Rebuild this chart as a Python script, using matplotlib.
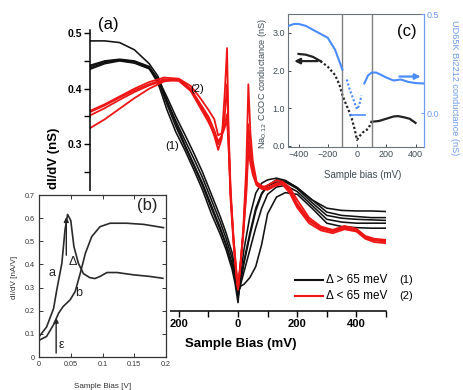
import matplotlib
matplotlib.use('Agg')
import matplotlib.pyplot as plt
from matplotlib.patches import Rectangle, FancyArrowPatch
from matplotlib.lines import Line2D
import numpy as np

plt.rcParams['font.family'] = ['Liberation Sans', 'DejaVu Sans']

# ---------------- main panel (a) data ----------------
bias_black = [-500, -450, -400, -350, -300, -270, -240, -210, -180, -150, -120, -90, -60, -40, -20, -10, 0,
              10, 20, 40, 60, 80, 100, 130, 160, 200, 250, 300, 350, 400, 450, 500]
black_1 = [.486, .486, .483, .470, .445, .422, .378, .338, .300, .265, .230, .190, .150, .120, .085, .060, .025,
           .060, .090, .140, .185, .212, .226, .236, .234, .222, .200, .178, .172, .170, .168, .168]
black_2 = [.437, .447, .451, .447, .436, .410, .362, .322, .290, .255, .218, .175, .138, .110, .075, .050, .015,
           .070, .110, .170, .212, .230, .236, .239, .235, .222, .200, .185, .181, .180, .180, .179]
black_3 = [.440, .449, .452, .449, .438, .414, .372, .332, .297, .262, .226, .185, .146, .118, .082, .058, .025,
           .055, .085, .135, .180, .210, .225, .232, .232, .220, .195, .172, .167, .165, .164, .163]
black_4 = [.435, .445, .450, .446, .436, .418, .385, .350, .318, .285, .250, .210, .170, .140, .105, .075, .035,
           .045, .048, .060, .080, .120, .175, .205, .213, .210, .185, .158, .152, .150, .149, .149]
black_5 = [.442, .450, .453, .450, .440, .416, .378, .342, .308, .275, .240, .200, .160, .130, .095, .068, .030,
           .050, .070, .110, .150, .185, .210, .223, .226, .215, .190, .165, .160, .158, .158, .158]

bias_red = [-500, -450, -400, -350, -300, -250, -200, -160, -130, -100, -80, -67, -55, -45, -37, -32, -25, -15, -5, 0,
            8, 18, 28, 35, 42, 50, 63, 80, 100, 130, 150, 175, 200, 240, 280, 320, 360, 400, 430, 460, 500]
red_1 = [.358, .370, .384, .397, .408, .417, .416, .398, .372, .345, .315, .290, .310, .390, .473, .330, .220, .130, .065, .040,
         .080, .150, .260, .408, .320, .270, .232, .225, .222, .228, .230, .215, .190, .162, .148, .143, .150, .145, .133, .127, .125]
red_2 = [.360, .372, .386, .400, .412, .420, .418, .405, .385, .362, .345, .316, .320, .335, .354, .300, .210, .130, .070, .045,
         .085, .140, .220, .305, .280, .255, .228, .222, .226, .235, .233, .222, .200, .168, .152, .146, .153, .148, .135, .130, .128]
red_3 = [.352, .365, .380, .394, .406, .415, .414, .396, .368, .340, .318, .300, .315, .350, .408, .320, .210, .125, .060, .038,
         .080, .145, .240, .336, .290, .260, .230, .220, .218, .226, .228, .212, .186, .158, .145, .140, .147, .143, .130, .124, .122]
red_4 = [.329, .345, .364, .383, .400, .413, .417, .400, .375, .350, .325, .305, .315, .330, .345, .300, .200, .120, .062, .040,
         .080, .140, .210, .290, .265, .245, .226, .220, .220, .230, .230, .218, .193, .164, .150, .144, .150, .146, .132, .128, .126]

main_xticks = [-200, 0, 200, 400]
main_xticklabels = ['200', '0', '200', '400']
main_yticks = [0.3, 0.4, 0.5]
main_yticklabels = ['0.3', '0.4', '0.5']

# ---------------- inset (b) data ----------------
b_bias_a = [0.0, 0.0016, 0.012, 0.023, 0.028, 0.036, 0.041, 0.045, 0.050, 0.055, 0.062, 0.070, 0.080, 0.088,
            0.096, 0.107, 0.123, 0.149, 0.175, 0.195]
b_curve_a = [0.085, 0.093, 0.13, 0.21, 0.29, 0.405, 0.55, 0.616, 0.59, 0.477, 0.405, 0.36, 0.343, 0.339,
             0.348, 0.365, 0.365, 0.355, 0.348, 0.34]
b_bias_b = [0.0, 0.002, 0.012, 0.023, 0.031, 0.038, 0.049, 0.057, 0.065, 0.073, 0.083, 0.096, 0.112, 0.138,
            0.165, 0.196]
b_curve_b = [0.07, 0.075, 0.089, 0.14, 0.19, 0.218, 0.247, 0.283, 0.362, 0.448, 0.52, 0.563, 0.578, 0.578,
             0.573, 0.559]

# ---------------- inset (c) data ----------------
c_bias_black = [-400, -350, -300, -250, -200, -150, -120, -100, -80, -60, -40, -20, 0, 20, 40, 60, 80, 100,
                150, 200, 250, 280, 320, 360, 400]
c_ccoc = [2.44, 2.42, 2.36, 2.25, 2.10, 1.88, 1.62, 1.35, 1.15, 0.97, 0.78, 0.50, 0.16, 0.27, 0.36, 0.40, 0.48, 0.64,
          0.66, 0.72, 0.78, 0.79, 0.76, 0.72, 0.61]
c_bias_blue = [-470, -430, -400, -350, -300, -250, -200, -150, -100, -70, -50, -30, -15, 0, 15, 30, 50, 75, 100,
               130, 160, 200, 250, 300, 350, 400, 460]
c_bi2212 = [0.44, 0.45, 0.45, 0.44, 0.42, 0.40, 0.38, 0.32, 0.22, 0.17, 0.12, 0.08, 0.05, 0.02, 0.04, 0.09, 0.15,
            0.19, 0.205, 0.205, 0.195, 0.18, 0.165, 0.17, 0.158, 0.152, 0.15]

BLACK = '#111111'
RED = '#ee1515'
BLUE = '#4a8cff'
LBLUE = '#6f9cf0'
SLATE = '#3e4c52'


def arrow(axis, start, end, color, lw, scale):
    axis.add_patch(FancyArrowPatch(start, end, arrowstyle='-|>', color=color, lw=lw,
                                   mutation_scale=scale, shrinkA=0, shrinkB=0))


fig = plt.figure(figsize=(4.64, 3.90), dpi=100)

# ---------------- main axes ----------------
ax = fig.add_axes([90 / 464, (390 - 311) / 390, 296 / 464, 289 / 390])
ax.set_zorder(0)
for yv in [black_1, black_2, black_3, black_4, black_5]:
    ax.plot(bias_black, yv, color=BLACK, lw=1.15)
for yv in [red_1, red_2, red_3, red_4]:
    ax.plot(bias_red, yv, color=RED, lw=1.3)
ax.set_xlim(-500, 500)
ax.set_ylim(0, 0.52)
ax.spines[['top', 'right']].set_visible(False)
ax.spines['left'].set_bounds(0, 0.506)
for s in ['left', 'bottom']:
    ax.spines[s].set_linewidth(1.1)
ax.set_xticks(main_xticks)
ax.set_xticklabels(main_xticklabels, fontweight='bold', fontsize=8)
ax.set_xticks(np.arange(-500, 501, 100), minor=True)
ax.set_yticks(main_yticks)
ax.set_yticklabels(main_yticklabels, fontweight='bold', fontsize=7.5)
ax.set_yticks([0.1, 0.15, 0.2, 0.25, 0.35, 0.45], minor=True)
ax.tick_params(which='both', direction='out', length=4, width=1.0, pad=2)
ax.set_xlabel('Sample Bias (mV)', fontweight='bold', fontsize=9.5)
ax.xaxis.set_label_coords(0.51, -0.095)
ax.set_ylabel('dI/dV (nS)', fontweight='bold', fontsize=9.5)
ax.yaxis.set_label_coords(-0.10, 0.53)
ax.text(-437, 0.515, '(a)', fontsize=12, ha='center', va='center', clip_on=False)
ax.text(-138, 0.399, '(2)', fontsize=8, ha='center', va='center')
ax.text(-222, 0.297, '(1)', fontsize=8, ha='center', va='center')

# legend drawn in axes coords
ax.add_line(Line2D([0.693, 0.787], [0.107, 0.107], color=BLACK, lw=1.5, transform=ax.transAxes))
ax.add_line(Line2D([0.693, 0.787], [0.052, 0.052], color=RED, lw=1.5, transform=ax.transAxes))
ax.text(0.797, 0.107, 'Δ > 65 meV', transform=ax.transAxes, fontsize=8.5, va='center')
ax.text(0.797, 0.052, 'Δ < 65 meV', transform=ax.transAxes, fontsize=8.5, va='center')
ax.text(1.045, 0.107, '(1)', transform=ax.transAxes, fontsize=8, va='center', clip_on=False)
ax.text(1.045, 0.052, '(2)', transform=ax.transAxes, fontsize=8, va='center', clip_on=False)

# white patch behind inset (b)
fig.patches.append(Rectangle((0, 0), 170 / 464, (390 - 191) / 390, transform=fig.transFigure,
                             facecolor='white', edgecolor='none', zorder=1))

# ---------------- inset (b) ----------------
axb = fig.add_axes([39 / 464, 33 / 390, 127 / 464, 162 / 390])
axb.set_zorder(2)
axb.plot(b_bias_a, b_curve_a, color='#2a2a2a', lw=1.2)
axb.plot(b_bias_b, b_curve_b, color='#2a2a2a', lw=1.2)
axb.set_xlim(0, 0.2)
axb.set_ylim(0, 0.7)
axb.set_xticks([0, 0.05, 0.1, 0.15, 0.2])
axb.set_xticklabels(['0', '0.05', '0.1', '0.15', '0.2'])
axb.set_yticks(np.arange(0, 0.71, 0.1))
axb.set_yticklabels(['0', '0.1', '0.2', '0.3', '0.4', '0.5', '0.6', '0.7'])
axb.tick_params(direction='in', length=3, width=0.7, labelsize=5.2, pad=3, top=True, right=True, colors='#333333')
for s in axb.spines.values():
    s.set_linewidth(0.9)
    s.set_color('#333333')
axb.set_xlabel('Sample Bias [V]', fontsize=5.8, color='#333333')
axb.xaxis.set_label_coords(0.5, -0.16)
axb.set_ylabel('dI/dV [nA/V]', fontsize=5.8, color='#333333')
axb.yaxis.set_label_coords(-0.165, 0.49)
arrow(axb, (0.043, 0.44), (0.043, 0.605), '#222222', 1.0, 7)
arrow(axb, (0.027, 0.017), (0.027, 0.17), '#222222', 1.0, 7)
axb.text(0.053, 0.41, 'Δ', fontsize=9, ha='center', va='center', color='#222222')
axb.text(0.036, 0.05, 'ε', fontsize=9, ha='center', va='center', color='#222222')
axb.text(0.020, 0.365, 'a', fontsize=9, ha='center', va='center', color='#222222')
axb.text(0.062, 0.275, 'b', fontsize=9, ha='center', va='center', color='#222222')
axb.text(0.17, 0.655, '(b)', fontsize=12, ha='center', va='center', color='#222222')

# ---------------- inset (c) ----------------
axc = fig.add_axes([288 / 464, (390 - 147) / 390, 136 / 464, 133 / 390])
axc.set_zorder(2)
axc.set_xlim(-472, 458)
axc.set_ylim(-0.03, 3.5)
bb = np.array(c_bias_black)
cc = np.array(c_ccoc)
solid_l = bb <= -250
solid_r = bb >= 100
mid = (bb >= -250) & (bb <= 100)
axc.plot(bb[solid_l], cc[solid_l], color='#222222', lw=1.6)
axc.plot(bb[solid_r], cc[solid_r], color='#222222', lw=1.6)
axc.plot(bb[mid], cc[mid], color='#222222', lw=1.6, ls=(0, (1, 1)))
axc.axvline(-100, color='#808080', lw=1.0)
axc.axvline(100, color='#808080', lw=1.0)
arrow(axc, (-270, 2.25), (-430, 2.25), '#222222', 1.6, 8)
axc.set_xticks([-400, -200, 0, 200, 400])
axc.set_xticklabels(['\u2212400', '\u2212200', '0', '200', '400'])
axc.set_yticks([0.0, 1.0, 2.0, 3.0])
axc.set_yticklabels(['0.0', '1.0', '2.0', '3.0'])
axc.tick_params(direction='in', length=2.5, width=0.7, labelsize=6.5, pad=2, colors=SLATE)
axc.tick_params(axis='y', right=False)
for s in axc.spines.values():
    s.set_linewidth(0.8)
    s.set_color('#6a7478')
axc.spines['right'].set_color(LBLUE)
axc.set_xlabel('Sample bias (mV)', fontsize=7, color=SLATE)
axc.xaxis.set_label_coords(0.55, -0.17)
axc.set_ylabel('Na$_{0.12}$ CCOC conductance (nS)', fontsize=6.6, color=SLATE)
axc.yaxis.set_label_coords(-0.14, 0.48)
axc.text(0.875, 0.865, '(c)', transform=axc.transAxes, fontsize=12, ha='center', va='center')

axr = axc.twinx()
axr.set_ylim(-0.17, 0.5)
bx = np.array(c_bias_blue)
by = np.array(c_bi2212)
lside = bx <= -90
rside = bx >= 40
bmid = (bx >= -90) & (bx <= 40)
axr.plot(bx[lside], by[lside], color=BLUE, lw=1.5)
axr.plot(bx[rside], by[rside], color=BLUE, lw=1.5)
axr.plot(bx[bmid], by[bmid], color=BLUE, lw=1.5, ls=(0, (1, 1)))
axr.plot([-48, 55], [-0.01, -0.01], color=BLUE, lw=1.2)
arrow(axr, (290, 0.185), (435, 0.185), BLUE, 1.6, 8)
axr.set_yticks([0.0, 0.5])
axr.set_yticklabels(['0.0', '0.5'])
axr.tick_params(direction='in', length=2.5, width=0.7, labelsize=6.5, pad=2, colors=LBLUE)
for s in ['left', 'top', 'bottom']:
    axr.spines[s].set_visible(False)
axr.spines['right'].set_color(LBLUE)
axr.spines['right'].set_linewidth(0.8)
axr.set_ylabel('UD65K Bi2212 conductance (nS)', fontsize=6.6, color=LBLUE, rotation=-90)
axr.yaxis.set_label_coords(1.26, 0.45)

fig.savefig('out.png', dpi=100)
